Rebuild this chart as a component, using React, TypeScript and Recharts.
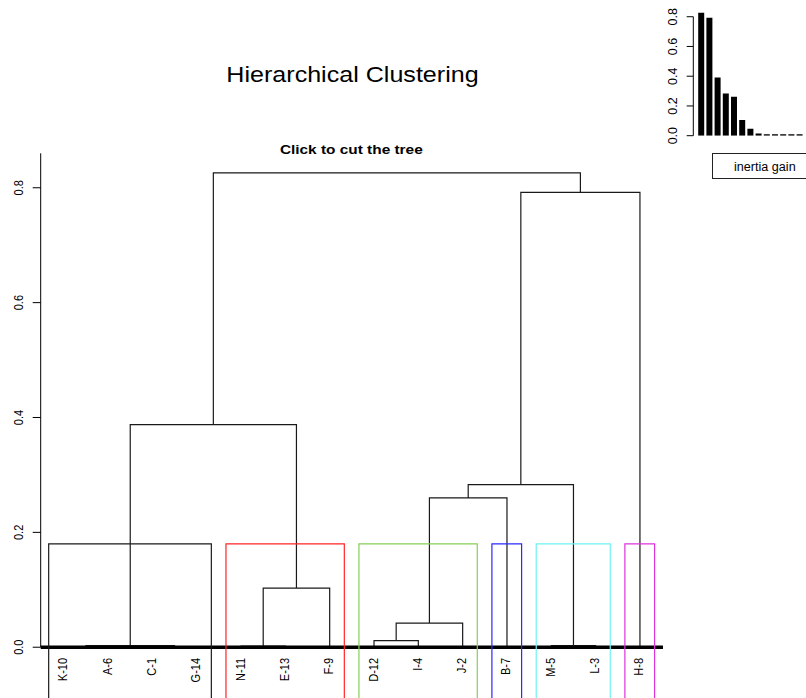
import React from 'react';
import {
  ComposedChart,
  BarChart,
  Bar,
  Line,
  Scatter,
  XAxis,
  YAxis,
  ReferenceLine,
} from 'recharts';

const FONT = '"Liberation Sans", Arial, Helvetica, sans-serif';

// leaves in dendrogram order (left to right)
const LEAVES = ['K-10', 'A-6', 'C-1', 'G-14', 'N-11', 'E-13', 'F-9', 'D-12', 'I-4', 'J-2', 'B-7', 'M-5', 'L-3', 'H-8'];

// hclust-style merge table: negative = leaf position, positive = earlier merge step
const MERGE_A = [-1, -3, 1, -5, -12, -8, 6, 4, 7, 9, 3, 10, 11];
const MERGE_B = [-2, -4, 2, -6, -13, -9, -10, -7, -11, 5, 8, -14, 12];
const MERGE_H = [0.001, 0.001, 0.003, 0.002, 0.003, 0.0115, 0.042, 0.103, 0.26, 0.283, 0.3875, 0.792, 0.826];

// cut of the tree into 6 clusters
const CUT_HEIGHT = 0.18;
const CLUSTER_FIRST = [1, 5, 8, 11, 12, 14];
const CLUSTER_LAST = [4, 7, 10, 11, 13, 14];
const CLUSTER_COLORS = ['#1a1a1a', '#ff2424', '#86d055', '#2a2aff', '#70f4f4', '#dd33dd'];

// inset: inertia gain per merge (descending)
const INERTIA_GAIN = [0.827, 0.793, 0.391, 0.284, 0.262, 0.106, 0.046, 0.015, 0.003, 0.002, 0.002, 0.001, 0.001];

const Y_TICKS = [0, 0.2, 0.4, 0.6, 0.8];
const Y_MIN = -0.0884;
const Y_MAX = 0.86;

function buildTree() {
  const nodeX: number[] = [];
  const nodeH: number[] = [];
  const pos = (ref: number) => (ref < 0 ? -ref : nodeX[ref - 1]);
  const hgt = (ref: number) => (ref < 0 ? 0 : nodeH[ref - 1]);
  return MERGE_A.map((a, i) => {
    const b = MERGE_B[i];
    const h = MERGE_H[i];
    const xa = pos(a);
    const xb = pos(b);
    nodeX.push((xa + xb) / 2);
    nodeH.push(h);
    return [
      { x: xa, y: hgt(a) },
      { x: xa, y: h },
      { x: xb, y: h },
      { x: xb, y: hgt(b) },
    ];
  });
}

const TREE = buildTree();

const RECTS = CLUSTER_FIRST.map((f, i) => [
  { x: f - 0.34, y: Y_MIN },
  { x: f - 0.34, y: CUT_HEIGHT },
  { x: CLUSTER_LAST[i] + 0.33, y: CUT_HEIGHT },
  { x: CLUSTER_LAST[i] + 0.33, y: Y_MIN },
]);

const LEAF_POINTS = LEAVES.map((name, i) => ({ x: i + 1, y: 0, name }));
const GAIN_DATA = INERTIA_GAIN.map((gain, i) => ({ step: i + 1, gain }));

const MainYTick = (props: any) => {
  const { x, y, payload } = props;
  return (
    <g transform={`translate(${x - 7.4},${y}) rotate(-90) scale(1,1.15)`}>
      <text x={0} y={0} textAnchor="middle" fontSize={11} fontFamily={FONT} fill="#000">
        {Number(payload.value).toFixed(1)}
      </text>
    </g>
  );
};

const InsetYTick = (props: any) => {
  const { x, y, payload } = props;
  return (
    <g transform={`translate(${x - 8},${y}) rotate(-90)`}>
      <text x={0} y={0} textAnchor="middle" fontSize={12.5} fontFamily={FONT} fill="#000">
        {Number(payload.value).toFixed(1)}
      </text>
    </g>
  );
};

const LeafLabel = (props: any) => {
  const { cx, cy, payload } = props;
  return (
    <g transform={`translate(${cx + 3.5},${cy + 10.7}) rotate(-90) scale(1,1.15)`}>
      <text x={0} y={0} textAnchor="end" fontSize={11} fontFamily={FONT} fill="#000">
        {payload?.name}
      </text>
    </g>
  );
};

export default function App() {
  return (
    <div
      style={{
        position: 'fixed',
        left: 0,
        top: 0,
        width: 806,
        height: 698,
        overflow: 'hidden',
        background: '#fff',
        fontFamily: FONT,
      }}
    >
      <div
        style={{
          position: 'absolute',
          left: 0,
          top: 62.2,
          width: 705,
          textAlign: 'center',
          fontSize: 22,
          lineHeight: '25px',
          color: '#000',
          transform: 'scaleX(1.14)',
          transformOrigin: 'center',
        }}
      >
        Hierarchical Clustering
      </div>
      <div
        style={{
          position: 'absolute',
          left: 0,
          top: 141.8,
          width: 702.6,
          textAlign: 'center',
          fontSize: 13.5,
          fontWeight: 'bold',
          lineHeight: '16px',
          color: '#000',
          transform: 'scaleX(1.14)',
          transformOrigin: 'center',
        }}
      >
        Click to cut the tree
      </div>

      <div style={{ position: 'absolute', left: 0, top: 0 }}>
        <ComposedChart width={806} height={698} margin={{ top: 153.3, right: 143, bottom: 0, left: 0 }}>
          <XAxis type="number" dataKey="x" domain={[0.48, 14.52]} hide allowDataOverflow />
          <YAxis
            type="number"
            domain={[Y_MIN, Y_MAX]}
            ticks={Y_TICKS}
            interval={0}
            allowDataOverflow
            width={40.7}
            axisLine={false}
            tickSize={8}
            tickLine={{ stroke: '#000' }}
            tick={<MainYTick />}
          />
          <ReferenceLine
            segment={[
              { x: 0.48, y: 0 },
              { x: 0.48, y: Y_MAX },
            ]}
            stroke="#000"
            strokeWidth={1}
          />
          {TREE.map((seg, i) => (
            <Line
              key={`m${i}`}
              data={seg}
              dataKey="y"
              type="linear"
              stroke="#1a1a1a"
              strokeWidth={1.2}
              dot={false}
              activeDot={false}
              isAnimationActive={false}
            />
          ))}
          <ReferenceLine y={0} stroke="#000" strokeWidth={3.5} />
          {RECTS.map((seg, i) => (
            <Line
              key={`r${i}`}
              data={seg}
              dataKey="y"
              type="linear"
              stroke={CLUSTER_COLORS[i]}
              strokeWidth={1.2}
              dot={false}
              activeDot={false}
              isAnimationActive={false}
            />
          ))}
          <Scatter
            data={LEAF_POINTS}
            dataKey="y"
            shape={(p: any) => <LeafLabel {...p} />}
            isAnimationActive={false}
          />
        </ComposedChart>
      </div>

      <div style={{ position: 'absolute', left: 660, top: 0 }}>
        <BarChart width={145.6} height={150} data={GAIN_DATA} margin={{ top: 7.8, right: 0, bottom: 14.3, left: 0 }}>
          <XAxis type="number" dataKey="step" domain={[0.024, 13.72]} hide allowDataOverflow />
          <YAxis
            type="number"
            domain={[0, 0.86]}
            ticks={Y_TICKS}
            interval={0}
            allowDataOverflow
            width={33.3}
            axisLine={false}
            tickSize={6.6}
            tickLine={{ stroke: '#000' }}
            tick={<InsetYTick />}
          />
          <ReferenceLine
            segment={[
              { x: 0.024, y: 0 },
              { x: 0.024, y: 0.8 },
            ]}
            stroke="#000"
            strokeWidth={1}
          />
          <Bar dataKey="gain" fill="#000" barSize={6} minPointSize={1.5} isAnimationActive={false} />
        </BarChart>
      </div>

      <div
        style={{
          position: 'absolute',
          left: 711.7,
          top: 153.3,
          width: 120,
          height: 25.7,
          border: '1px solid #222',
          boxSizing: 'border-box',
        }}
      />
      <div
        style={{
          position: 'absolute',
          left: 734.3,
          top: 160.3,
          fontSize: 12,
          lineHeight: '14px',
          color: '#000',
          whiteSpace: 'nowrap',
          transform: 'scaleX(1.05)',
          transformOrigin: 'left',
        }}
      >
        inertia gain
      </div>
    </div>
  );
}
